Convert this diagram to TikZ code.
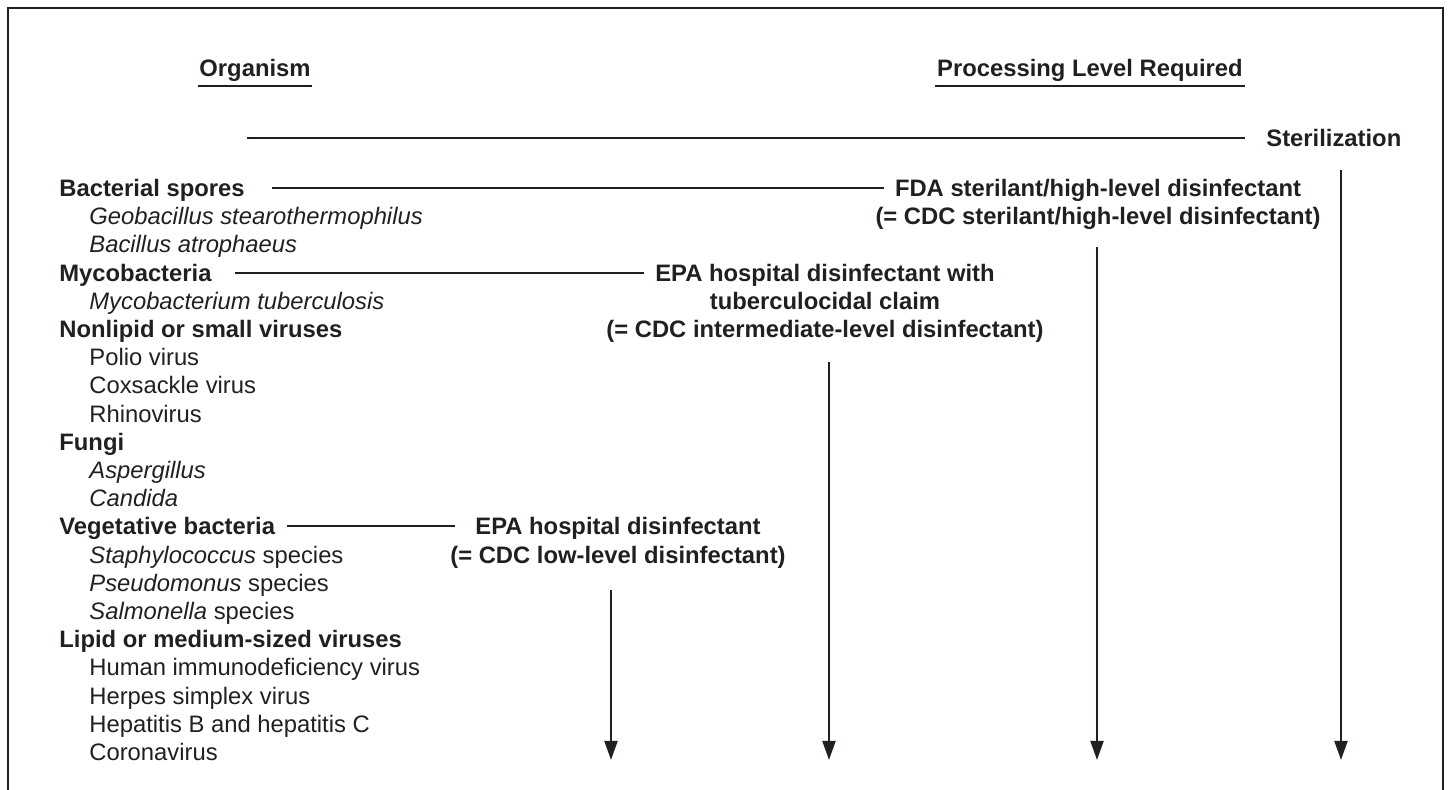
\documentclass[tikz,border=0pt]{standalone}
\usepackage{fontspec}
\setmainfont{Liberation Sans}
\usetikzlibrary{arrows.meta}
\definecolor{ink}{RGB}{35,31,32}
\begin{document}
\begin{tikzpicture}[x=0.5pt,y=-0.5pt,
  every node/.style={inner sep=0pt, text=ink, font=\fontsize{11.9}{14}\selectfont, text height=10.95pt, text depth=2.4pt},
  title/.style={font=\fontsize{11.9}{14}\selectfont\bfseries, anchor=center},
  hdr/.style={font=\fontsize{11.9}{14}\selectfont\bfseries, anchor=west},
  sub/.style={anchor=west},
  lvl/.style={font=\fontsize{11.9}{14}\selectfont\bfseries, anchor=center},
  lvlw/.style={font=\fontsize{11.9}{14}\selectfont\bfseries, anchor=west},
  conn/.style={draw=ink, line width=1pt},
  arr/.style={draw=ink, line width=1pt, -{Triangle[length=9.5pt,width=6.5pt,fill=ink]}},
  frame/.style={draw=ink, line width=1pt},
]
\useasboundingbox (0,0) rectangle (1448,790);
% frame (open at the bottom)
\draw[frame] (8,792) -- (8,8) -- (1443,8) -- (1443,792);

% column titles
\node[title] (org) at (255,68) {Organism};
\node[title] (plr) at (1090,68) {Processing Level Required};
\draw[conn] (198,86) -- (312,86);
\draw[conn] (935,86) -- (1245,86);

% sterilization
\node[lvlw] (steril) at (1266,138) {Sterilization};
\coordinate (sterstart) at (247,138);
\draw[conn] (sterstart) -- ([xshift=-10.5pt]steril.west);

% organism list
\node[hdr] (bact)  at (59,188)   {Bacterial spores};
\node[sub] (geo)   at (89,216.2) {\textit{Geobacillus stearothermophilus}};
\node[sub] (bacil) at (89,244.4) {\textit{Bacillus atrophaeus}};
\node[hdr] (myco)  at (59,273)   {Mycobacteria};
\node[sub] (mtb)   at (89,300.8) {\textit{Mycobacterium tuberculosis}};
\node[hdr] (nonl)  at (59,329)   {Nonlipid or small viruses};
\node[sub] (polio) at (89,357.2) {Polio virus};
\node[sub] (cox)   at (89,385.4) {Coxsackle virus};
\node[sub] (rhino) at (89,413.6) {Rhinovirus};
\node[hdr] (fungi) at (59,441.8) {Fungi};
\node[sub] (asp)   at (89,470)   {\textit{Aspergillus}};
\node[sub] (cand)  at (89,498.2) {\textit{Candida}};
\node[hdr] (veg)   at (59,526.4) {Vegetative bacteria};
\node[sub] (staph) at (89,554.6) {\textit{Staphylococcus} species};
\node[sub] (pseu)  at (89,582.8) {\textit{Pseudomonus} species};
\node[sub] (salm)  at (89,611)   {\textit{Salmonella} species};
\node[hdr] (lipid) at (59,639.2) {Lipid or medium-sized viruses};
\node[sub] (hiv)   at (89,667.4) {Human immunodeficiency virus};
\node[sub] (herp)  at (89,695.6) {Herpes simplex virus};
\node[sub] (hep)   at (89,723.8) {Hepatitis B and hepatitis C};
\node[sub] (corona)at (89,752)   {Coronavirus};

% processing levels
\node[lvl] (fda1) at (1098,188)   {FDA sterilant/high-level disinfectant};
\node[lvl] (fda2) at (1098,216.2) {(= CDC sterilant/high-level disinfectant)};
\node[lvl] (epa1) at (825,273)    {EPA hospital disinfectant with};
\node[lvl] (epa2) at (825,301.2)  {tuberculocidal claim};
\node[lvl] (epa3) at (825,329.4)  {(= CDC intermediate-level disinfectant)};
\node[lvl] (low1) at (618,526.4)  {EPA hospital disinfectant};
\node[lvl] (low2) at (618,554.6)  {(= CDC low-level disinfectant)};

% connectors
\draw[conn] ([xshift=13.5pt]bact.east) -- ([xshift=-5.5pt]bact.east -| fda1.west);
\draw[conn] ([xshift=11.75pt]myco.east) -- ([xshift=-5.5pt]myco.east -| epa1.west);
\draw[conn] ([xshift=6pt]veg.east) -- ([xshift=-10pt]veg.east -| low1.west);

% downward arrows
\coordinate (a1s) at (611,590);  \coordinate (a1e) at (611,760);
\coordinate (a2s) at (829,362);  \coordinate (a2e) at (829,760);
\coordinate (a3s) at (1097,247); \coordinate (a3e) at (1097,760);
\coordinate (a4s) at (1341,170); \coordinate (a4e) at (1341,760);
\draw[arr] (a1s) -- (a1e);
\draw[arr] (a2s) -- (a2e);
\draw[arr] (a3s) -- (a3e);
\draw[arr] (a4s) -- (a4e);
\end{tikzpicture}
\end{document}
